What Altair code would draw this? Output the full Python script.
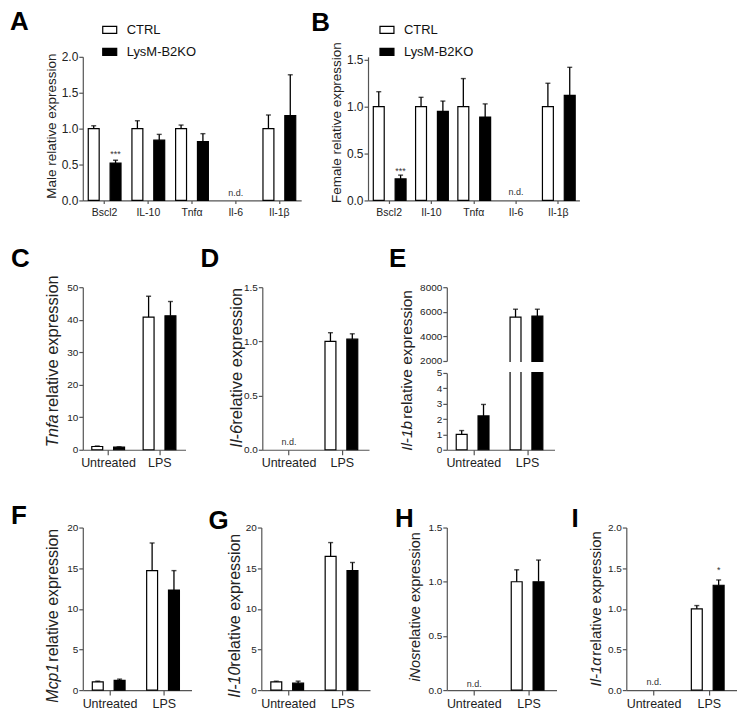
import altair as alt
import pandas as pd

GROUPS = ["CTRL", "LysM-B2KO"]
FILLS = ["white", "black"]
FONT = "Liberation Sans"

# ---- A: male tissue ----
male_genes = ["Bscl2", "IL-10", "Tnfα", "Il-6", "Il-1β"]
male_ctrl = [1.00, 1.00, 1.00, None, 1.00]
male_ctrl_sem = [0.04, 0.11, 0.05, None, 0.19]
male_ko = [0.52, 0.84, 0.82, None, 1.18]
male_ko_sem = [0.04, 0.08, 0.11, None, 0.57]

# ---- B: female tissue ----
female_genes = ["Bscl2", "Il-10", "Tnfα", "Il-6", "Il-1β"]
female_ctrl = [1.00, 1.00, 1.00, None, 1.00]
female_ctrl_sem = [0.16, 0.10, 0.30, None, 0.25]
female_ko = [0.23, 0.95, 0.89, None, 1.12]
female_ko_sem = [0.04, 0.11, 0.14, None, 0.30]

# ---- C-I: macrophages ----
treatments = ["Untreated", "LPS"]
tnfa_ctrl = [1.0, 40.8]
tnfa_ctrl_sem = [0.15, 6.4]
tnfa_ko = [0.8, 41.2]
tnfa_ko_sem = [0.1, 4.4]

il6_ctrl = [None, 1.0]
il6_ctrl_sem = [None, 0.08]
il6_ko = [None, 1.02]
il6_ko_sem = [None, 0.05]

il1b_ctrl = [1.0, 5570]
il1b_ctrl_sem = [0.25, 640]
il1b_ko = [2.2, 5650]
il1b_ko_sem = [0.75, 560]

mcp1_ctrl = [1.0, 14.7]
mcp1_ctrl_sem = [0.1, 3.4]
mcp1_ko = [1.2, 12.3]
mcp1_ko_sem = [0.15, 2.4]

il10_ctrl = [1.0, 16.45]
il10_ctrl_sem = [0.1, 1.7]
il10_ko = [0.85, 14.7]
il10_ko_sem = [0.25, 1.0]

inos_ctrl = [None, 1.0]
inos_ctrl_sem = [None, 0.11]
inos_ko = [None, 1.0]
inos_ko_sem = [None, 0.2]

il1a_ctrl = [None, 1.0]
il1a_ctrl_sem = [None, 0.04]
il1a_ko = [None, 1.29]
il1a_ko_sem = [None, 0.065]


def bars_frame(cats, ctrl, ctrl_sem, ko, ko_sem):
    rows = []
    for grp, vals, sems in (("CTRL", ctrl, ctrl_sem), ("LysM-B2KO", ko, ko_sem)):
        for c, v, s in zip(cats, vals, sems):
            if v is not None:
                rows.append({"cat": c, "grp": grp, "val": v, "hi": v + s})
    return pd.DataFrame(rows)


def text_layer(text, x, y, **kw):
    return alt.Chart(pd.DataFrame({"t": [text]})).mark_text(**kw).encode(
        text="t:N", x=alt.value(x), y=alt.value(y))


def y_axis(values, fmt, size):
    return alt.Axis(values=values, format=fmt, title=None, tickSize=4, orient="left",
                    labelPadding=1, labelFontSize=size, labelFont=FONT,
                    labelColor="#222", domainColor="#555", tickColor="#555",
                    domainWidth=1.2, tickWidth=1.2, grid=False,
                    labelOverlap=False, labelBound=False)


def encodings(cats, big, xaxis=True):
    if big:
        pi, po, poff, xlfs, xts, xlp = 0.25, 0.125, 0.5, 10.5, 3, 4
    else:
        pi, po, poff, xlfs, xts, xlp = 0.35, 0.175, 0.375, 12.5, 5, 2
    xax = alt.Axis(title=None, labelAngle=0, tickSize=xts, labelPadding=xlp,
                   labelFontSize=xlfs, labelFont=FONT, labelColor="#222",
                   domainColor="#555", tickColor="#555", domainWidth=1.2,
                   tickWidth=1.2, grid=False, labelOverlap=False) if xaxis else None
    x = alt.X("cat:N", sort=cats,
              scale=alt.Scale(domain=cats, paddingInner=pi, paddingOuter=po),
              axis=xax)
    xo = alt.XOffset("grp:N", sort=GROUPS,
                     scale=alt.Scale(domain=GROUPS, paddingInner=poff))
    return x, xo


def err_layers(src, x, xo, yscale, yax):
    return [
        src.mark_rule(color="black", strokeWidth=1.3).encode(
            x=x, xOffset=xo, y=alt.Y("val:Q", scale=yscale, axis=yax), y2="hi:Q"),
        src.mark_tick(color="black", thickness=1.4, size=5).encode(
            x=x, xOffset=xo, y=alt.Y("hi:Q", scale=yscale, axis=yax)),
    ]


def note_layers(x, xo, notes, yscale, yax):
    layers = []
    centred = [n for n in notes if n[1] is None]
    offset = [n for n in notes if n[1] is not None]
    if centred:
        nd = pd.DataFrame([{"cat": c, "y": yy, "t": t} for c, g, yy, t in centred])
        layers.append(alt.Chart(nd).mark_text(fontSize=9, font=FONT, color="#333",
                                              baseline="middle").encode(
            x=x, y=alt.Y("y:Q", scale=yscale, axis=yax), text="t:N"))
    if offset:
        od = pd.DataFrame([{"cat": c, "grp": g, "y": yy, "t": t}
                           for c, g, yy, t in offset])
        layers.append(alt.Chart(od).mark_text(fontSize=9, font=FONT, color="#333",
                                              baseline="middle").encode(
            x=x, xOffset=xo, y=alt.Y("y:Q", scale=yscale, axis=yax), text="t:N"))
    return layers


def label_layers(ytitles, letter, letter_xy, lead):
    layers = []
    for txt, tx, ty, align, style, fs in ytitles:
        layers.append(text_layer(txt, tx, ty, angle=270, align=align,
                                 baseline="middle", fontSize=fs, font=FONT,
                                 fontStyle=style, color="#222"))
    if letter:
        layers.append(text_layer(letter, letter_xy[0], letter_xy[1], align="left",
                                 baseline="top", fontSize=26, fontWeight="bold",
                                 font=FONT, color="black"))
    # invisible anchor fixing the panel's left extent
    layers.append(text_layer(".", -lead, letter_xy[1] if letter_xy else 0,
                             align="left", baseline="top", fontSize=2, opacity=0))
    return layers


def panel(cats, ctrl, ctrl_sem, ko, ko_sem, *, width, height, ydom, yvals, yfmt,
          big=False, letter=None, letter_xy=None, ytitles=(), notes=(),
          legend=None, lead=60):
    df = bars_frame(cats, ctrl, ctrl_sem, ko, ko_sem)
    x, xo = encodings(cats, big)
    ysc = alt.Scale(domain=ydom, nice=False, zero=False)
    yax = y_axis(yvals, yfmt, 12 if big else 10)
    fill = alt.Fill("grp:N", scale=alt.Scale(domain=GROUPS, range=FILLS),
                    legend=legend)
    base = alt.Chart(df)
    layers = [base.mark_bar(stroke="black", strokeWidth=1.2).encode(
        x=x, xOffset=xo, y=alt.Y("val:Q", scale=ysc, axis=yax), y2=alt.datum(0),
        fill=fill)]
    layers += err_layers(base, x, xo, ysc, yax)
    layers += note_layers(x, xo, notes, ysc, yax)
    layers += label_layers(ytitles, letter, letter_xy, lead)
    return alt.layer(*layers).properties(width=width, height=height)


def panel_broken(cats, ctrl, ctrl_sem, ko, ko_sem, *, width, height, top_px, gap_px,
                 top_dom, top_vals, bot_dom, bot_vals, letter, letter_xy, ytitles,
                 lead):
    df = bars_frame(cats, ctrl, ctrl_sem, ko, ko_sem)
    x, xo = encodings(cats, False)
    fill = alt.Fill("grp:N", scale=alt.Scale(domain=GROUPS, range=FILLS), legend=None)
    bot_top = top_px + gap_px
    top_scale = alt.Scale(domain=top_dom, range=[top_px, 0], nice=False, zero=False)
    bot_scale = alt.Scale(domain=bot_dom, range=[height, bot_top], nice=False,
                          zero=False)
    top_ax = y_axis(top_vals, "d", 10)
    bot_ax = y_axis(bot_vals, "d", 10)
    top_src = alt.Chart(df).transform_filter(f"datum.val >= {top_dom[0]}")
    below = top_dom[0] - (top_dom[1] - top_dom[0]) * (gap_px / 2) / top_px
    top_layer = alt.layer(
        top_src.mark_bar(stroke="black", strokeWidth=1.2).encode(
            x=x, xOffset=xo, y=alt.Y("val:Q", scale=top_scale, axis=top_ax),
            y2=alt.datum(below), fill=fill),
        *err_layers(top_src, x, xo, top_scale, top_ax),
    )
    span = bot_dom[1] - bot_dom[0]
    bot_px = height - bot_top
    cap = bot_dom[1] + span * (gap_px / 2) / bot_px
    m_lo = bot_dom[1] + span * 1.0 / bot_px
    m_hi = bot_dom[1] + span * (gap_px - 1.0) / bot_px
    bot_src = alt.Chart(df).transform_calculate(vb=f"min(datum.val, {cap})")
    bot_err = alt.Chart(df).transform_filter(f"datum.hi < {bot_dom[1]}")
    mask = alt.Chart(pd.DataFrame({"lo": [m_lo], "hi": [m_hi]}))
    bot_layer = alt.layer(
        bot_src.mark_bar(stroke="black", strokeWidth=1.2).encode(
            x=x, xOffset=xo, y=alt.Y("vb:Q", scale=bot_scale, axis=bot_ax),
            y2=alt.datum(0), fill=fill),
        *err_layers(bot_err, x, xo, bot_scale, bot_ax),
        mask.mark_rect(fill="white").encode(
            x=alt.value(0.8), x2=alt.value(width),
            y=alt.Y("lo:Q", scale=bot_scale, axis=bot_ax), y2="hi:Q"),
    )
    layers = [top_layer, bot_layer] + label_layers(ytitles, letter, letter_xy, lead)
    return alt.layer(*layers).resolve_scale(y="independent").properties(
        width=width, height=height)


def legend_at(lx, ly):
    return alt.Legend(title=None, orient="none", legendX=lx, legendY=ly,
                      direction="vertical",
                      symbolType="M-1,-0.5H1V0.5H-1Z", symbolSize=196,
                      symbolStrokeColor="black", symbolStrokeWidth=1.2,
                      labelFontSize=13, labelFont=FONT, labelColor="#111",
                      labelOffset=9, rowPadding=7)


def gene_title(gene, x, gene_top, rest_start, fs):
    return [(gene, x, gene_top, "right", "italic", fs),
            ("relative expression", x, rest_start, "left", "normal", fs)]


pA = panel(male_genes, male_ctrl, male_ctrl_sem, male_ko, male_ko_sem,
           width=219, height=144, ydom=[0, 2.0], yvals=[0, 0.5, 1.0, 1.5, 2.0],
           yfmt=".1f", big=True, letter="A", letter_xy=(-73, -48), lead=73,
           ytitles=[("Male relative expression", -31, 69.5, "center", "normal", 13.5)],
           notes=[("Bscl2", "LysM-B2KO", 0.64, "***"), ("Il-6", None, 0.1, "n.d.")],
           legend=legend_at(19, -35))
pB = panel(female_genes, female_ctrl, female_ctrl_sem, female_ko, female_ko_sem,
           width=212, height=144, ydom=[0, 1.5 * 144 / 141], yvals=[0, 0.5, 1.0, 1.5],
           yfmt=".1f", big=True, letter="B", letter_xy=(-57, -47), lead=57,
           ytitles=[("Female relative expression", -31, 66, "center", "normal", 13.5)],
           notes=[("Bscl2", "LysM-B2KO", 0.31, "***"), ("Il-6", None, 0.09, "n.d.")],
           legend=legend_at(11, -35))
row1 = alt.hconcat(pA, pB, spacing=10).resolve_scale(
    fill="independent").resolve_legend(fill="independent")

pC = panel(treatments, tnfa_ctrl, tnfa_ctrl_sem, tnfa_ko, tnfa_ko_sem,
           width=103, height=163, ydom=[0, 50], yvals=[0, 10, 20, 30, 40, 50],
           yfmt="d", letter="C", letter_xy=(-72, -41), lead=72,
           ytitles=gene_title("Tnfa", -30, 127.5, 125.5, 16.5))
pD = panel(treatments, il6_ctrl, il6_ctrl_sem, il6_ko, il6_ko_sem,
           width=107, height=163, ydom=[0, 1.5], yvals=[0, 0.5, 1.0, 1.5],
           yfmt=".1f", letter="D", letter_xy=(-62, -41), lead=62,
           ytitles=gene_title("Il-6", -25, 138, 138, 16.5),
           notes=[("Untreated", None, 0.07, "n.d.")])
pE = panel_broken(treatments, il1b_ctrl, il1b_ctrl_sem, il1b_ko, il1b_ko_sem,
                  width=108, height=163, top_px=74, gap_px=12,
                  top_dom=[2000, 8000], top_vals=[2000, 4000, 6000, 8000],
                  bot_dom=[0, 5], bot_vals=[0, 1, 2, 3, 4, 5],
                  letter="E", letter_xy=(-58, -41), lead=63,
                  ytitles=gene_title("Il-1b", -40, 134, 132, 15.5))
row2 = alt.hconcat(pC, pD, pE, spacing=15).resolve_scale(fill="independent")

pF = panel(treatments, mcp1_ctrl, mcp1_ctrl_sem, mcp1_ko, mcp1_ko_sem,
           width=109, height=163, ydom=[0, 20], yvals=[0, 5, 10, 15, 20],
           yfmt="d", letter="F", letter_xy=(-72, -25), lead=72,
           ytitles=gene_title("Mcp1", -30, 136.5, 134.5, 16))
pG = panel(treatments, il10_ctrl, il10_ctrl_sem, il10_ko, il10_ko_sem,
           width=109, height=163, ydom=[0, 20], yvals=[0, 5, 10, 15, 20],
           yfmt="d", letter="G", letter_xy=(-53, -20), lead=55,
           ytitles=gene_title("Il-10", -26, 139.5, 139.5, 16))
pH = panel(treatments, inos_ctrl, inos_ctrl_sem, inos_ko, inos_ko_sem,
           width=110, height=163, ydom=[0, 1.5], yvals=[0, 0.5, 1.0, 1.5],
           yfmt=".1f", letter="H", letter_xy=(-52, -22), lead=62,
           ytitles=gene_title("iNos", -30.5, 125.5, 125.5, 14.5),
           notes=[("Untreated", None, 0.06, "n.d.")])
pI = panel(treatments, il1a_ctrl, il1a_ctrl_sem, il1a_ko, il1a_ko_sem,
           width=111, height=163, ydom=[0, 2.0], yvals=[0, 0.5, 1.0, 1.5, 2.0],
           yfmt=".1f", letter="I", letter_xy=(-55, -22), lead=55,
           ytitles=gene_title("Il-1α", -30, 130, 128.5, 15),
           notes=[("Untreated", None, 0.1, "n.d."), ("LPS", "LysM-B2KO", 1.48, "*")])
row3 = alt.hconcat(pF, pG, pH, pI, spacing=15).resolve_scale(fill="independent")

lower = alt.vconcat(row2, row3, spacing=33).resolve_scale(fill="independent")
chart = alt.vconcat(row1, lower, spacing=28).resolve_scale(
    fill="independent").properties(
    padding={"left": 2, "top": 0, "right": 0, "bottom": 0}).configure_view(
    stroke=None).configure_axis(labelFont=FONT, labelOverlap=False)

chart.save("out.html", embed_options={"renderer": "svg", "actions": False})
